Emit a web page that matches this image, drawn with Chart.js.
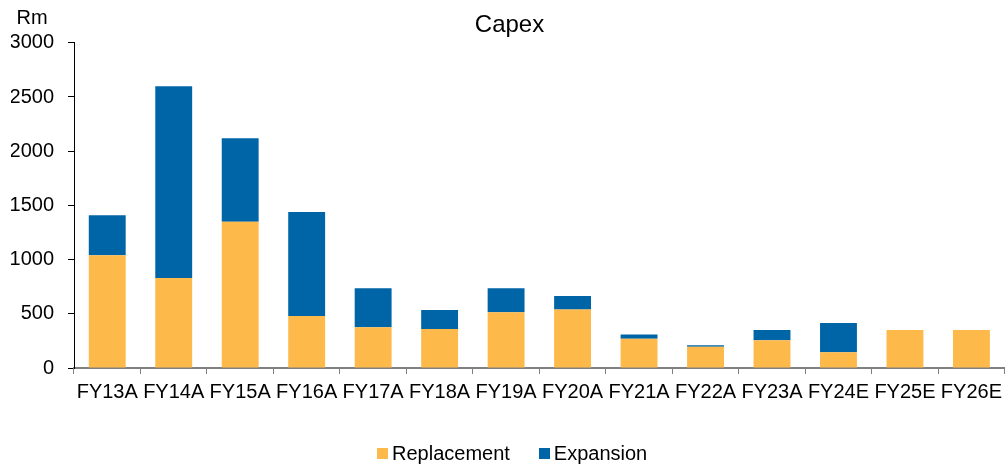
<!DOCTYPE html>
<html>
<head>
<meta charset="utf-8">
<script src="https://cdn.jsdelivr.net/npm/chart.js@4/dist/chart.umd.min.js"></script>
<style>
  html, body { margin: 0; padding: 0; background: #ffffff; }
  #wrap { position: relative; width: 1008px; height: 466px; }
  #capex { display: block; }
  #legend {
    position: absolute; left: 377px; top: 442px; height: 22px;
    display: flex; align-items: center;
    font-family: "Liberation Sans", Arial, sans-serif; font-size: 20px; color: #000;
  }
  #legend .item { display: flex; align-items: center; margin-right: 29px; }
  #legend .box { width: 11px; height: 11px; margin-right: 4px; }
</style>
</head>
<body>
<div id="wrap">
  <canvas id="capex" width="1008" height="466"></canvas>
  <div id="legend"></div>
</div>
<script>
const categories = ['FY13A', 'FY14A', 'FY15A', 'FY16A', 'FY17A', 'FY18A', 'FY19A',
                    'FY20A', 'FY21A', 'FY22A', 'FY23A', 'FY24E', 'FY25E', 'FY26E'];
const replacement = [1040, 830, 1350, 480, 375, 360, 515, 540, 270, 195, 255, 145, 350, 350];
const expansion   = [370, 1770, 770, 960, 360, 175, 220, 125, 40, 15, 95, 270, 0, 0];
const yTicks = [0, 500, 1000, 1500, 2000, 2500, 3000];
const unitLabel = 'Rm';

const FONT = '"Liberation Sans", Arial, sans-serif';

// Unit caption above the value axis
const unitPlugin = {
  id: 'unitLabel',
  afterDraw(chart) {
    const ctx = chart.ctx;
    ctx.save();
    ctx.font = '20px ' + FONT;
    ctx.fillStyle = '#000';
    ctx.textAlign = 'center';
    ctx.textBaseline = 'middle';
    ctx.fillText(unitLabel, 32, 18);
    ctx.restore();
  }
};

const chart = new Chart(document.getElementById('capex'), {
  type: 'bar',
  data: {
    labels: categories,
    datasets: [
      { label: 'Replacement', data: replacement, backgroundColor: '#FDB94A' },
      { label: 'Expansion', data: expansion, backgroundColor: '#0065A6' }
    ]
  },
  options: {
    responsive: false,
    animation: false,
    devicePixelRatio: 1,
    layout: { padding: { left: 11, right: 0, top: 0, bottom: 58 } },
    datasets: { bar: { categoryPercentage: 1, barPercentage: 0.555 } },
    plugins: {
      legend: { display: false },
      tooltip: { enabled: false },
      title: {
        display: true,
        text: 'Capex',
        color: '#000',
        font: { family: FONT, size: 24, weight: 'normal' },
        padding: { top: 11, bottom: 3 }
      }
    },
    scales: {
      x: {
        stacked: true,
        afterFit(scale) { scale.height = 40; },
        grid: { display: true, drawOnChartArea: false, drawTicks: true, tickLength: 6, color: '#808080', offset: true },
        border: { display: true, color: '#808080', width: 2 },
        ticks: {
          color: '#000', font: { family: FONT, size: 20 }, padding: 6,
          maxRotation: 0, minRotation: 0, autoSkip: false
        }
      },
      y: {
        stacked: true,
        min: 0, max: 3000,
        afterFit(scale) { scale.width = 63; },
        afterBuildTicks(scale) { scale.ticks = yTicks.map(v => ({ value: v })); },
        grid: { display: true, drawOnChartArea: false, drawTicks: true, tickLength: 6, color: '#000' },
        border: { display: true, color: '#000', width: 1 },
        ticks: {
          color: '#000', font: { family: FONT, size: 20 }, padding: 14,
          callback: (v) => String(v)
        }
      }
    }
  },
  plugins: [unitPlugin]
});

// Legend built from the chart's datasets
const legend = document.getElementById('legend');
chart.data.datasets.forEach(ds => {
  const item = document.createElement('div');
  item.className = 'item';
  const box = document.createElement('span');
  box.className = 'box';
  box.style.background = ds.backgroundColor;
  const text = document.createElement('span');
  text.textContent = ds.label;
  item.appendChild(box);
  item.appendChild(text);
  legend.appendChild(item);
});
</script>
</body>
</html>
